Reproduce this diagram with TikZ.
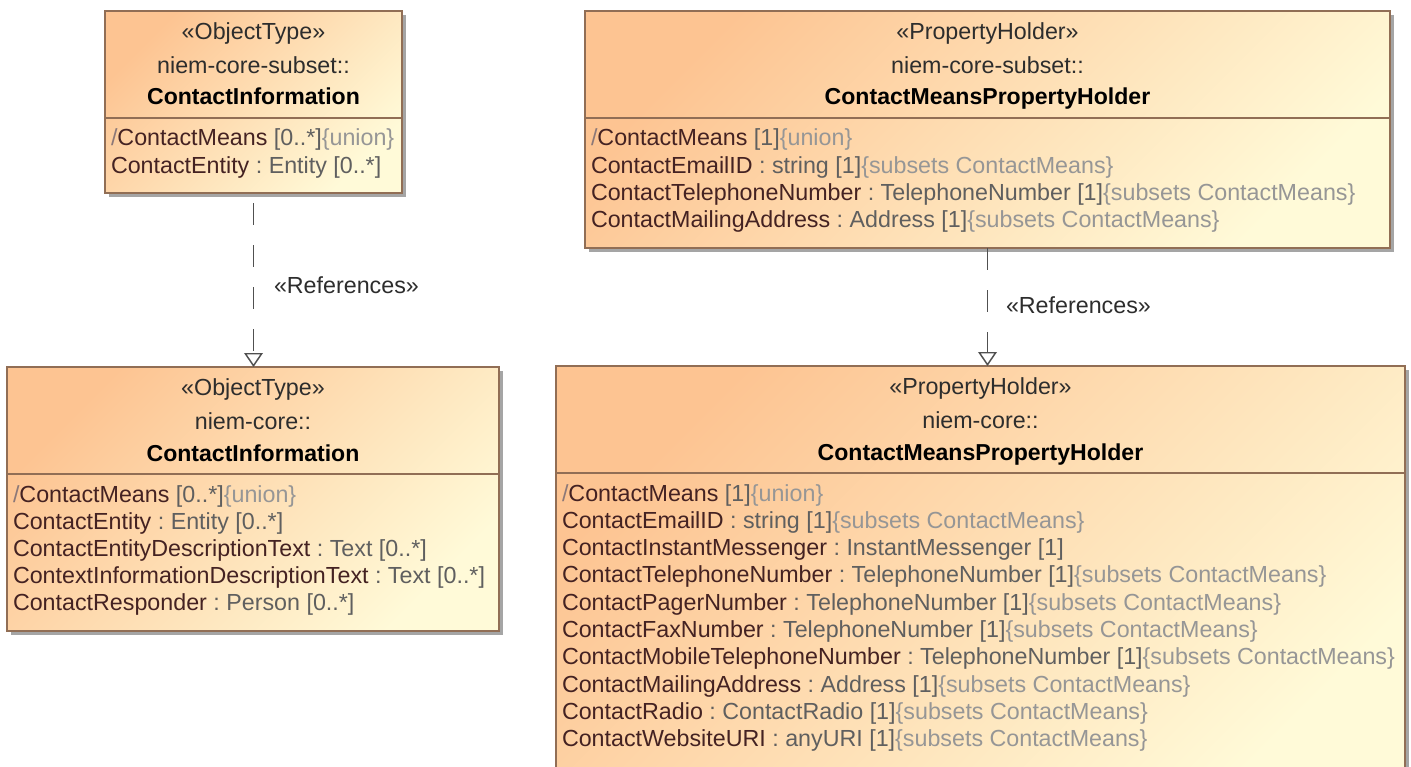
\documentclass[tikz,border=0pt]{standalone}
\usepackage{fontspec}
\setmainfont{Liberation Sans}
\usetikzlibrary{arrows.meta,shadows}
\definecolor{boxOr}{RGB}{253,196,146}
\definecolor{boxYe}{RGB}{255,250,216}
\definecolor{borderC}{RGB}{145,110,85}
\definecolor{shadowC}{RGB}{165,165,165}
\definecolor{nameC}{RGB}{68,34,34}
\definecolor{typeC}{RGB}{95,95,95}
\definecolor{consC}{RGB}{150,150,150}
\definecolor{slashC}{RGB}{140,120,120}
\definecolor{headC}{RGB}{45,45,45}
\definecolor{lineC}{RGB}{80,80,80}
\newcommand\aN[1]{\textcolor{nameC}{#1}}
\newcommand\aT[1]{\textcolor{typeC}{#1}}
\newcommand\aC[1]{\textcolor{consC}{#1}}
\newcommand\aS{\textcolor{slashC}{/}}
\newcommand\subsetsCM{\aC{\{subsets ContactMeans\}}}
\frenchspacing
\begin{document}
\begin{tikzpicture}[x=0.75pt,y=-0.75pt,
  every node/.style={font=\fontsize{17.45}{20}\selectfont\frenchspacing, inner sep=0pt, outer sep=0pt},
  umlbox/.style={rectangle, draw=borderC, line width=1.1pt,
    top color=boxOr, bottom color=boxYe, shading angle=45,
    drop shadow={shadow xshift=3pt, shadow yshift=-3pt, fill=shadowC, opacity=1}},
  divider/.style={draw=borderC, line width=1.1pt},
  headtxt/.style={anchor=base, text=headC},
  titletxt/.style={anchor=base, text=black, font=\fontsize{17.3}{20}\selectfont\bfseries},
  attr/.style={anchor=base west},
  reflabel/.style={anchor=base west, text=headC},
  refline/.style={draw=lineC, line width=1.1pt, dash pattern=on 16.5pt off 15pt,
    -{Triangle[open, length=10.5pt, width=14pt, line width=1.1pt, fill=white]}}
]
\clip (0,0) rectangle (1411,767);
\fill[white] (0,0) rectangle (1411,767);

% ---------- Box A ----------
\node[umlbox, minimum width=222.75pt, minimum height=136.5pt] (A) at (253.5,102) {};
\draw[divider] (A.west |- 0,118) -- (A.east |- 0,118);
\node[headtxt] (A1) at (253.5,39.5) {«ObjectType»};
\node[headtxt] (A2) at (253.5,73.5) {niem-core-subset::};
\node[titletxt] (A3) at (253.5,105) {ContactInformation};
\node[attr] (A4) at (111,146) {\aS\aN{ContactMeans}\aT{\ [0..*]}\aC{\{union\}}};
\node[attr] (A5) at (111,173.2) {\aN{ContactEntity}\aT{\ : Entity [0..*]}};

% ---------- Box B ----------
\node[umlbox, minimum width=603.75pt, minimum height=177.75pt] (B) at (987.5,129.5) {};
\draw[divider] (B.west |- 0,118) -- (B.east |- 0,118);
\node[headtxt] (B1) at (987.5,39.5) {«PropertyHolder»};
\node[headtxt] (B2) at (987.5,73.5) {niem-core-subset::};
\node[titletxt] (B3) at (987.5,105) {ContactMeansPropertyHolder};
\node[attr] (B4) at (591,146) {\aS\aN{ContactMeans}\aT{\ [1]}\aC{\{union\}}};
\node[attr] (B5) at (591,173.2) {\aN{ContactEmailID}\aT{\ : string [1]}\subsetsCM};
\node[attr] (B6) at (591,200.4) {\aN{ContactTelephoneNumber}\aT{\ : TelephoneNumber [1]}\subsetsCM};
\node[attr] (B7) at (591,227.6) {\aN{ContactMailingAddress}\aT{\ : Address [1]}\subsetsCM};

% ---------- Box C ----------
\node[umlbox, minimum width=369pt, minimum height=198pt] (C) at (253,499) {};
\draw[divider] (C.west |- 0,474) -- (C.east |- 0,474);
\node[headtxt] (C1) at (253,395.5) {«ObjectType»};
\node[headtxt] (C2) at (253,429.5) {niem-core::};
\node[titletxt] (C3) at (253,461) {ContactInformation};
\node[attr] (C4) at (13,502) {\aS\aN{ContactMeans}\aT{\ [0..*]}\aC{\{union\}}};
\node[attr] (C5) at (13,529.2) {\aN{ContactEntity}\aT{\ : Entity [0..*]}};
\node[attr] (C6) at (13,556.4) {\aN{ContactEntityDescriptionText}\aT{\ : Text [0..*]}};
\node[attr] (C7) at (13,583.6) {\aN{ContextInformationDescriptionText}\aT{\ : Text [0..*]}};
\node[attr] (C8) at (13,610.8) {\aN{ContactResponder}\aT{\ : Person [0..*]}};

% ---------- Box D ----------
\node[umlbox, minimum width=636.75pt, minimum height=325.5pt] (D) at (980.5,583) {};
\draw[divider] (D.west |- 0,473) -- (D.east |- 0,473);
\node[headtxt] (D1) at (980.5,394.5) {«PropertyHolder»};
\node[headtxt] (D2) at (980.5,428.5) {niem-core::};
\node[titletxt] (D3) at (980.5,460) {ContactMeansPropertyHolder};
\node[attr] (D4) at (562,501) {\aS\aN{ContactMeans}\aT{\ [1]}\aC{\{union\}}};
\node[attr] (D5) at (562,528.3) {\aN{ContactEmailID}\aT{\ : string [1]}\subsetsCM};
\node[attr] (D6) at (562,555.6) {\aN{ContactInstantMessenger}\aT{\ : InstantMessenger [1]}};
\node[attr] (D7) at (562,582.9) {\aN{ContactTelephoneNumber}\aT{\ : TelephoneNumber [1]}\subsetsCM};
\node[attr] (D8) at (562,610.2) {\aN{ContactPagerNumber}\aT{\ : TelephoneNumber [1]}\subsetsCM};
\node[attr] (D9) at (562,637.5) {\aN{ContactFaxNumber}\aT{\ : TelephoneNumber [1]}\subsetsCM};
\node[attr] (D10) at (562,664.8) {\aN{ContactMobileTelephoneNumber}\aT{\ : TelephoneNumber [1]}\subsetsCM};
\node[attr] (D11) at (562,692.1) {\aN{ContactMailingAddress}\aT{\ : Address [1]}\subsetsCM};
\node[attr] (D12) at (562,719.4) {\aN{ContactRadio}\aT{\ : ContactRadio [1]}\subsetsCM};
\node[attr] (D13) at (562,746.7) {\aN{ContactWebsiteURI}\aT{\ : anyURI [1]}\subsetsCM};

% ---------- Connectors ----------
\draw[refline, dash phase=24pt] (A.south) -- (A.south |- C.north);
\node[reflabel] (LA) at (274,293) {«References»};
\draw[refline] (B.south) -- (B.south |- D.north);
\node[reflabel] (LB) at (1006,313) {«References»};
\end{tikzpicture}
\end{document}
